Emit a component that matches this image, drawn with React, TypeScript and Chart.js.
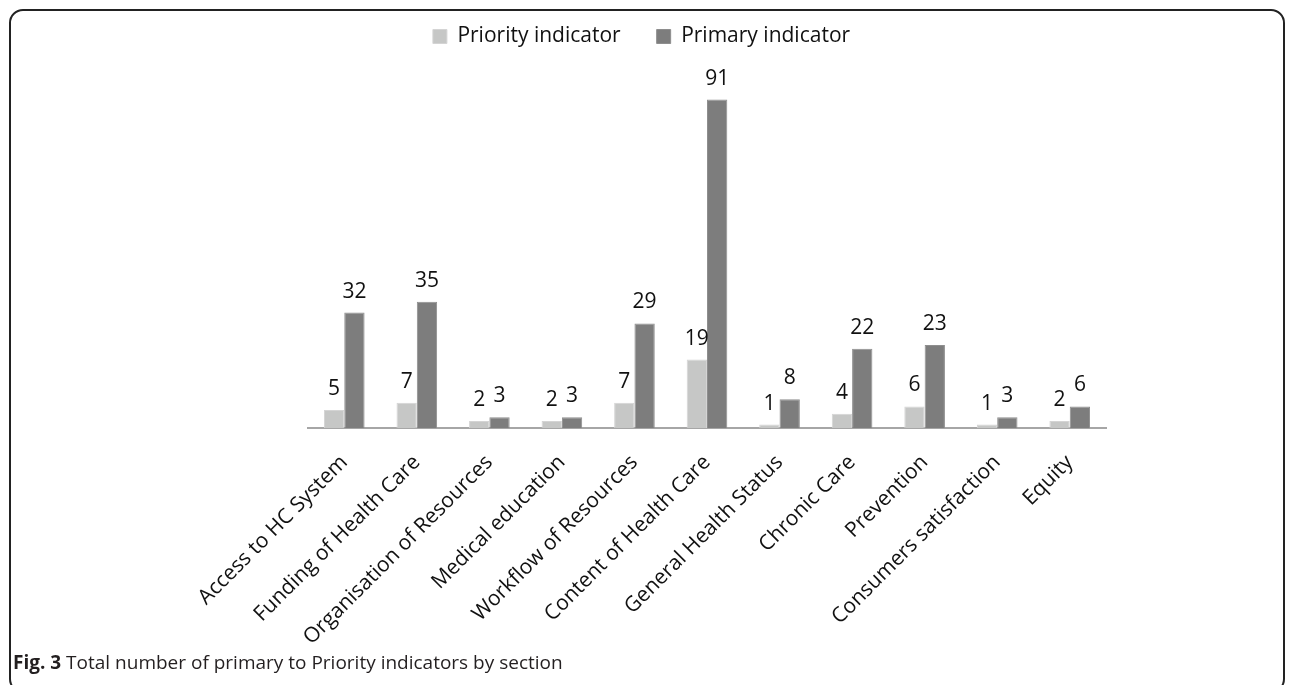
import React, { useEffect, useRef } from "react";
import { Chart, registerables } from "chart.js";

Chart.register(...registerables);

const categories = [
  "Access to HC System",
  "Funding of Health Care",
  "Organisation of Resources",
  "Medical education",
  "Workflow of Resources",
  "Content of Health Care",
  "General Health Status",
  "Chronic Care",
  "Prevention",
  "Consumers satisfaction",
  "Equity",
];
const priorityValues = [5, 7, 2, 2, 7, 19, 1, 4, 6, 1, 2];
const primaryValues = [32, 35, 3, 3, 29, 91, 8, 22, 23, 3, 6];

const FONT = "'Open Sans', sans-serif";

const valueLabels = {
  id: "valueLabels",
  afterDatasetsDraw(chart: any) {
    const ctx = chart.ctx;
    ctx.save();
    ctx.font = `21px ${FONT}`;
    ctx.fillStyle = "#111";
    ctx.textAlign = "center";
    ctx.textBaseline = "alphabetic";
    chart.data.datasets.forEach((ds: any, i: number) => {
      const meta = chart.getDatasetMeta(i);
      meta.data.forEach((el: any, j: number) => {
        ctx.fillText(String(ds.data[j]), el.x, el.y - 15);
      });
    });
    ctx.restore();
  },
};

const legendHeight = {
  id: "legendHeight",
  beforeInit(chart: any) {
    const legend = chart.legend;
    if (!legend) return;
    const origFit = legend.fit;
    legend.fit = function () {
      origFit.call(this);
      this.height = 77;
    };
  },
};

export default function App() {
  const ref = useRef<HTMLCanvasElement>(null);
  useEffect(() => {
    if (!ref.current) return;
    const chart = new Chart(ref.current, {
      type: "bar",
      data: {
        labels: categories,
        datasets: [
          {
            label: "Priority indicator",
            data: priorityValues,
            backgroundColor: "#c6c7c6",
            borderColor: "#d4d4d4",
            borderWidth: 1,
          },
          {
            label: "Primary indicator",
            data: primaryValues,
            backgroundColor: "#7d7d7d",
            borderColor: "#8e8e8e",
            borderWidth: 1,
          },
        ],
      },
      options: {
        responsive: false,
        animation: false,
        devicePixelRatio: 1,
        datasets: { bar: { categoryPercentage: 0.56, barPercentage: 1 } },
        layout: { padding: { left: 0, right: 12, top: -10, bottom: 0 } },
        plugins: {
          legend: {
            position: "top",
            labels: {
              font: { family: FONT, size: 21 },
              color: "#111",
              boxWidth: 14,
              boxHeight: 14,
              padding: 36,
            },
          },
          tooltip: { enabled: false },
        },
        scales: {
          x: {
            grid: { display: false, drawTicks: false },
            border: { display: true, color: "#a6a6a6", width: 2 },
            ticks: {
              minRotation: 45,
              maxRotation: 45,
              autoSkip: false,
              padding: 22,
              color: "#111",
              font: { family: FONT, size: 21 },
            },
          },
          y: {
            display: true,
            position: "left",
            min: 0,
            max: 100,
            ticks: { display: false },
            grid: { display: false, drawTicks: false },
            border: { display: false },
            afterFit: (s: any) => {
              s.width = 308;
            },
          },
          yRight: {
            display: true,
            position: "right",
            min: 0,
            max: 100,
            ticks: { display: false },
            grid: { display: false, drawTicks: false },
            border: { display: false },
            afterFit: (s: any) => {
              s.width = 177;
            },
          },
        },
      },
      plugins: [valueLabels, legendHeight],
    });
    return () => chart.destroy();
  }, []);

  return (
    <div style={{ position: "fixed", left: 0, top: 0, width: 1295, height: 685, background: "#fff" }}>
      <div
        style={{
          position: "absolute",
          left: 9,
          top: 9,
          width: 1276,
          height: 684,
          border: "2px solid #222",
          borderRadius: 14,
          boxSizing: "border-box",
        }}
      />
      <canvas
        ref={ref}
        width={1295}
        height={672}
        style={{ position: "absolute", left: 0, top: 0, width: 1295, height: 672 }}
      />
      <div
        style={{
          position: "absolute",
          left: 13,
          top: 649,
          fontFamily: FONT,
          fontSize: 19,
          color: "#231f20",
          whiteSpace: "nowrap",
        }}
      >
        <b>Fig. 3</b> Total number of primary to Priority indicators by section
      </div>
    </div>
  );
}
